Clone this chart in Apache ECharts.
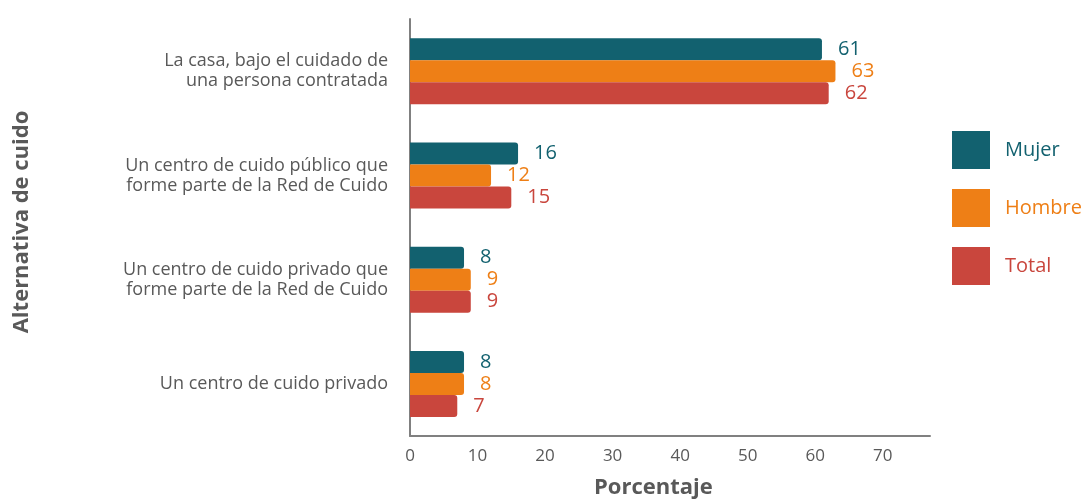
<!DOCTYPE html>
<html>
<head>
<meta charset="utf-8">
<script src="https://cdn.jsdelivr.net/npm/echarts@6/dist/echarts.min.js"></script>
<style>
  html, body { margin: 0; padding: 0; background: #fff; }
  #chart { width: 1085px; height: 503px; }
</style>
</head>
<body>
<div id="chart"></div>
<script>
const categories = [
  'La casa, bajo el cuidado de\nuna persona contratada',
  'Un centro de cuido público que\nforme parte de la Red de Cuido',
  'Un centro de cuido privado que\nforme parte de la Red de Cuido',
  'Un centro de cuido privado'
]
const mujer = [61, 16, 8, 8]
const hombre = [63, 12, 9, 8]
const total = [62, 15, 9, 7]

const colors = { Mujer: '#12616f', Hombre: '#ee7f16', Total: '#c9463d' }
const font = 'Open Sans'
const gray = '#595959'

function barSeries(name, values) {
  return {
    name,
    type: 'bar',
    data: values,
    barWidth: 22,
    barGap: '0%',
    itemStyle: { color: colors[name], borderRadius: [0, 3, 3, 0] },
    label: {
      show: true,
      position: 'right',
      distance: 16,
      color: colors[name],
      fontFamily: font,
      fontSize: 20
    }
  }
}

const chart = echarts.init(document.getElementById('chart'))
chart.setOption({
  animation: false,
  grid: { left: 410, right: 155, top: 19, bottom: 67 },
  legend: {
    orient: 'vertical',
    left: 947,
    top: 126,
    itemWidth: 38,
    itemHeight: 38,
    itemGap: 20,
    icon: 'rect',
    textStyle: { fontFamily: font, fontSize: 20, padding: [0, 0, 0, 10] },
    data: Object.keys(colors).map(n => ({ name: n, textStyle: { color: colors[n] } }))
  },
  xAxis: {
    type: 'value',
    min: 0,
    max: 77,
    interval: 10,
    splitLine: { show: false },
    axisLine: { show: true, lineStyle: { color: '#808080', width: 2 } },
    axisTick: { show: false },
    axisLabel: {
      color: gray,
      fontFamily: font,
      fontSize: 17,
      margin: 12,
      showMaxLabel: false
    }
  },
  yAxis: {
    type: 'category',
    inverse: true,
    data: categories,
    axisLine: { lineStyle: { color: '#808080', width: 2 } },
    axisTick: { show: false },
    axisLabel: {
      color: gray,
      fontFamily: font,
      fontSize: 18,
      lineHeight: 20,
      margin: 22
    }
  },
  graphic: [
    {
      type: 'text',
      left: 594,
      top: 477,
      style: { text: 'Porcentaje', fill: gray, font: 'bold 22px "Open Sans"' }
    },
    {
      type: 'text',
      x: 22,
      y: 222,
      rotation: Math.PI / 2,
      style: {
        text: 'Alternativa de cuido',
        fill: gray,
        font: 'bold 22px "Open Sans"',
        align: 'center',
        verticalAlign: 'middle'
      }
    }
  ],
  series: [
    barSeries('Mujer', mujer),
    barSeries('Hombre', hombre),
    barSeries('Total', total)
  ]
})
</script>
</body>
</html>
